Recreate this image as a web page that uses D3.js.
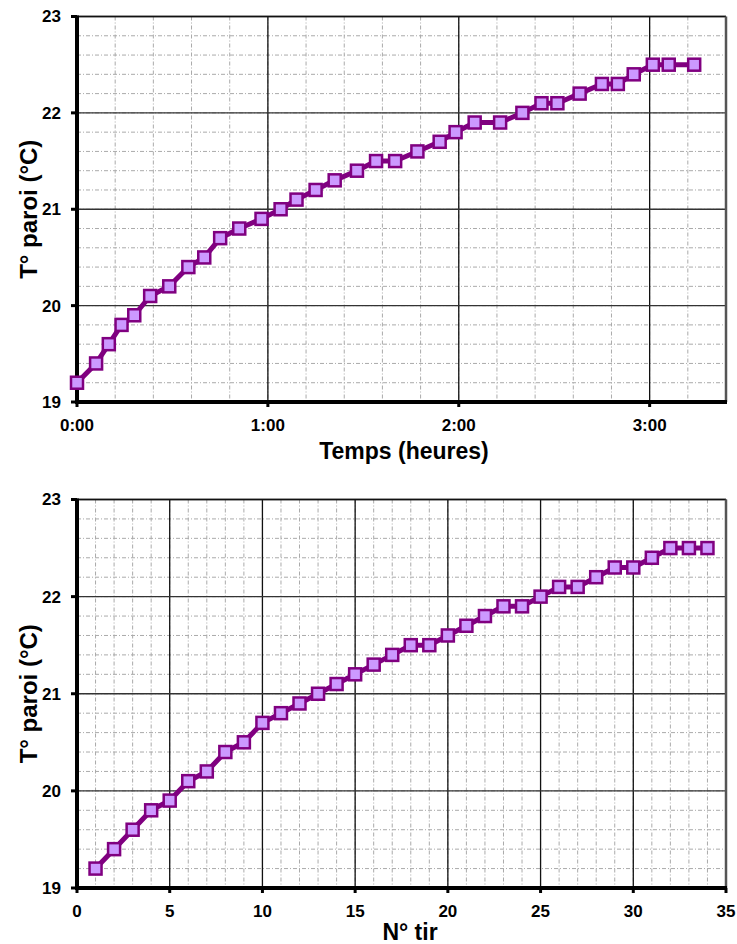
<!DOCTYPE html>
<html>
<head>
<meta charset="utf-8">
<script src="https://cdn.jsdelivr.net/npm/d3@7"></script>
<style>
  body { margin: 0; background: #fff; }
  text { font-family: "Liberation Sans", Arial, sans-serif; font-weight: bold; fill: #000; }
</style>
</head>
<body>
<div id="chart"></div>
<script>
// temps ecoule depuis le premier tir
var temps = ["0:00","0:06","0:10","0:14","0:18","0:23","0:29","0:35","0:40","0:45",
             "0:51","0:58","1:04","1:09","1:15","1:21","1:28","1:34","1:40","1:47",
             "1:54","1:59","2:05","2:13","2:20","2:26","2:31","2:38","2:45","2:50",
             "2:55","3:01","3:06","3:14"];
var tirs = [1,2,3,4,5,6,7,8,9,10,11,12,13,14,15,16,17,18,19,20,
            21,22,23,24,25,26,27,28,29,30,31,32,33,34];
var tParoi = [19.2,19.4,19.6,19.8,19.9,20.1,20.2,20.4,20.5,20.7,
              20.8,20.9,21.0,21.1,21.2,21.3,21.4,21.5,21.5,21.6,
              21.7,21.8,21.9,21.9,22.0,22.1,22.1,22.2,22.3,22.3,
              22.4,22.5,22.5,22.5];
var yTicks = [19,20,21,22,23];
var timeTicks = ["0:00","1:00","2:00","3:00"];
var tirTicks = [0,5,10,15,20,25,30,35];

var W = 737, H = 944;
var left = 77, right = 726;

function toMin(s) {
  var p = s.split(":");
  return +p[0] * 60 + +p[1];
}

var svg = d3.select("#chart").append("svg")
  .attr("width", W)
  .attr("height", H);

function drawPanel(opt) {
  var g = svg.append("g");
  var x = opt.x, y = opt.y;
  var top = opt.top, bottom = opt.bottom;

  // petites graduations
  g.selectAll(".vminor").data(opt.xMinor).enter().append("line")
    .attr("x1", function(d) { return x(d); })
    .attr("x2", function(d) { return x(d); })
    .attr("y1", top).attr("y2", bottom)
    .attr("stroke", "#aaa").attr("stroke-width", 1)
    .attr("stroke-dasharray", "4,2,1,2");
  g.selectAll(".hminor").data(d3.range(190, 231, 2).map(function(v) { return v / 10; })).enter().append("line")
    .attr("x1", left).attr("x2", right)
    .attr("y1", function(d) { return y(d); })
    .attr("y2", function(d) { return y(d); })
    .attr("stroke", "#aaa").attr("stroke-width", 1)
    .attr("stroke-dasharray", "4,2,1,2");

  // grille principale
  g.selectAll(".vmajor").data(opt.xMajor).enter().append("line")
    .attr("x1", function(d) { return x(d); })
    .attr("x2", function(d) { return x(d); })
    .attr("y1", top).attr("y2", bottom)
    .attr("stroke", "#111").attr("stroke-width", 1.3);
  g.selectAll(".hmajor").data(yTicks).enter().append("line")
    .attr("x1", left).attr("x2", right)
    .attr("y1", function(d) { return y(d); })
    .attr("y2", function(d) { return y(d); })
    .attr("stroke", "#333").attr("stroke-width", 1.3);

  // cadre
  g.append("line").attr("x1", left).attr("x2", right).attr("y1", top).attr("y2", top)
    .attr("stroke", "#111").attr("stroke-width", 1.5);
  g.append("line").attr("x1", right).attr("x2", right).attr("y1", top).attr("y2", bottom)
    .attr("stroke", "#555").attr("stroke-width", 2.5);

  // axes
  g.append("line").attr("x1", left).attr("x2", left).attr("y1", top - 1).attr("y2", bottom + 2)
    .attr("stroke", "#000").attr("stroke-width", 4);
  g.append("line").attr("x1", left - 2).attr("x2", right + 1).attr("y1", bottom).attr("y2", bottom)
    .attr("stroke", "#000").attr("stroke-width", 4);

  g.selectAll(".ytick").data(yTicks).enter().append("line")
    .attr("x1", left - 6).attr("x2", left)
    .attr("y1", function(d) { return y(d); })
    .attr("y2", function(d) { return y(d); })
    .attr("stroke", "#000").attr("stroke-width", 3);
  g.selectAll(".xtick").data(opt.xMajor).enter().append("line")
    .attr("x1", function(d) { return x(d); })
    .attr("x2", function(d) { return x(d); })
    .attr("y1", bottom).attr("y2", bottom + 5)
    .attr("stroke", "#000").attr("stroke-width", 3);

  g.selectAll(".ylab").data(yTicks).enter().append("text")
    .attr("x", 61)
    .attr("y", function(d) { return y(d); })
    .attr("dy", "0.35em")
    .attr("text-anchor", "end")
    .style("font-size", "17px")
    .text(function(d) { return d; });
  g.selectAll(".xlab").data(opt.xMajor).enter().append("text")
    .attr("x", function(d) { return x(d); })
    .attr("y", bottom + 29)
    .attr("text-anchor", "middle")
    .style("font-size", "17px")
    .text(opt.xFormat);

  g.append("text")
    .attr("x", opt.titleX)
    .attr("y", opt.titleY)
    .attr("text-anchor", "middle")
    .style("font-size", "23px")
    .text(opt.xTitle);
  g.append("text")
    .attr("transform", "translate(37," + (top + bottom) / 2 + ")rotate(-90)")
    .attr("text-anchor", "middle")
    .style("font-size", "24px")
    .text("T° paroi (°C)");

  // serie
  var line = d3.line()
    .x(function(d) { return x(d[0]); })
    .y(function(d) { return y(d[1]); });
  g.append("path")
    .datum(opt.points)
    .attr("d", line)
    .attr("fill", "none")
    .attr("stroke", "#800080")
    .attr("stroke-width", 5)
    .attr("stroke-linejoin", "round");
  g.selectAll(".pt").data(opt.points).enter().append("rect")
    .attr("x", function(d) { return x(d[0]) - 6; })
    .attr("y", function(d) { return y(d[1]) - 6; })
    .attr("width", 12).attr("height", 12)
    .attr("fill", "#cc99ff")
    .attr("stroke", "#800080")
    .attr("stroke-width", 2.5);
}

// graphique 1 : temperature en fonction du temps
var xTime = d3.scaleLinear().domain([0, 204]).range([left, right]);
var yTop = d3.scaleLinear().domain([19, 23]).range([402, 16.5]);
drawPanel({
  x: xTime, y: yTop, top: 16.5, bottom: 402,
  xMajor: timeTicks.map(toMin),
  xMinor: d3.range(0, 205, 12),
  xFormat: function(d) { return Math.floor(d / 60) + ":00"; },
  xTitle: "Temps (heures)", titleX: 404, titleY: 459,
  points: temps.map(function(t, i) { return [toMin(t), tParoi[i]]; })
});

// graphique 2 : temperature en fonction du numero de tir
var xTir = d3.scaleLinear().domain([0, 35]).range([left, right]);
var yBot = d3.scaleLinear().domain([19, 23]).range([888, 499.5]);
drawPanel({
  x: xTir, y: yBot, top: 499.5, bottom: 888,
  xMajor: tirTicks,
  xMinor: d3.range(0, 36, 1),
  xFormat: function(d) { return d; },
  xTitle: "N° tir", titleX: 410, titleY: 940,
  points: tirs.map(function(n, i) { return [n, tParoi[i]]; })
});
</script>
</body>
</html>
